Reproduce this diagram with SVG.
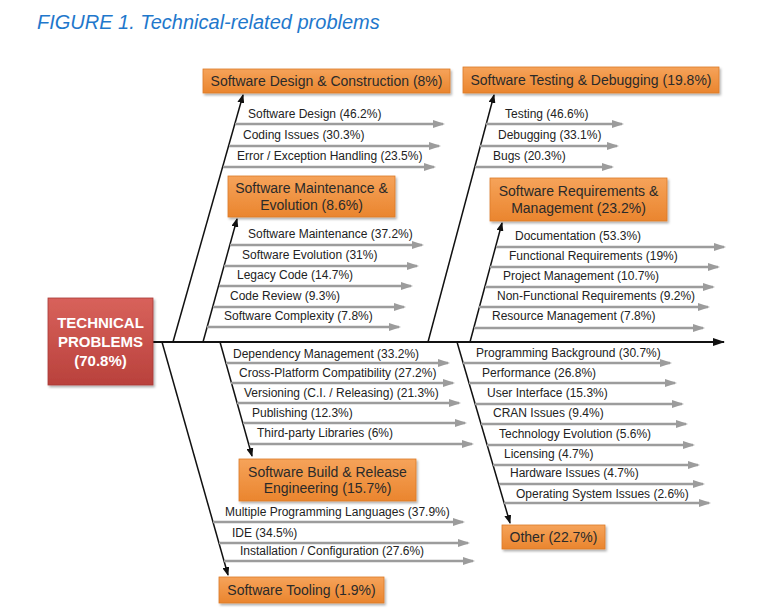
<svg xmlns="http://www.w3.org/2000/svg" width="776" height="615" viewBox="0 0 776 615">
<defs>
<style>
.title{font-family:"Liberation Sans",Arial,sans-serif;font-size:20px;font-style:italic;fill:#1f78cc}
.cat rect{fill:url(#og);stroke:#dc7a28;stroke-width:0.8;filter:url(#sh)}
.cat text{font-family:"Liberation Sans",Arial,sans-serif;font-size:14px;fill:#2a2a2a;text-anchor:middle}
.root rect{fill:url(#rg);stroke:#a83a36;stroke-width:0.8;filter:url(#sh)}
.root text{font-family:"Liberation Sans",Arial,sans-serif;font-size:15px;font-weight:bold;fill:#fff;text-anchor:middle}
.lbl{font-family:"Liberation Sans",Arial,sans-serif;font-size:12px;fill:#222}
.sub{stroke:#9c9c9c;stroke-width:2.4;fill:none;marker-end:url(#ga)}
.bone{stroke:#111;stroke-width:1.5;fill:none;marker-end:url(#ba)}
.spine{stroke:#111;stroke-width:2.2;fill:none;marker-end:url(#sa)}
</style>
<linearGradient id="og" x1="0" y1="0" x2="0" y2="1"><stop offset="0" stop-color="#f6a35a"/><stop offset="1" stop-color="#ea852e"/></linearGradient>
<linearGradient id="rg" x1="0" y1="0" x2="0" y2="1"><stop offset="0" stop-color="#d8625b"/><stop offset="1" stop-color="#b9413c"/></linearGradient>
<filter id="sh" x="-10%" y="-20%" width="125%" height="150%"><feDropShadow dx="1.5" dy="2" stdDeviation="1.2" flood-color="#000" flood-opacity="0.3"/></filter>
<marker id="ga" markerWidth="12" markerHeight="8" refX="10" refY="4" orient="auto" markerUnits="userSpaceOnUse"><path d="M0,0 L12,4 L0,8 z" fill="#9c9c9c"/></marker>
<marker id="ba" markerWidth="9" markerHeight="7" refX="8" refY="3.5" orient="auto" markerUnits="userSpaceOnUse"><path d="M0,0 L9,3.5 L0,7 z" fill="#111"/></marker>
<marker id="sa" markerWidth="12" markerHeight="8" refX="11" refY="4" orient="auto" markerUnits="userSpaceOnUse"><path d="M0,0 L12,4 L0,8 z" fill="#111"/></marker>
</defs>
<rect width="776" height="615" fill="#fff"/>
<text class="title" x="37" y="29">FIGURE 1. Technical-related problems</text>

<g id="connectors">
<line class="spine" x1="153" y1="342" x2="724" y2="342"/>
<line class="bone" x1="173" y1="342" x2="243" y2="95"/>
<line class="bone" x1="203" y1="342" x2="237" y2="219"/>
<line class="bone" x1="428" y1="342" x2="494" y2="95"/>
<line class="bone" x1="470" y1="342" x2="502" y2="223"/>
<line class="bone" x1="220" y1="342" x2="252" y2="456"/>
<line class="bone" x1="162" y1="342" x2="228" y2="575"/>
<line class="bone" x1="457" y1="342" x2="510" y2="523"/>
<!-- Design & Construction -->
<line class="sub" x1="235" y1="124" x2="443" y2="124"/>
<line class="sub" x1="229" y1="146" x2="439" y2="146"/>
<line class="sub" x1="223" y1="167" x2="434" y2="167"/>
<!-- Maintenance -->
<line class="sub" x1="230" y1="245" x2="422" y2="245"/>
<line class="sub" x1="224" y1="266" x2="417" y2="266"/>
<line class="sub" x1="219" y1="286" x2="411" y2="286"/>
<line class="sub" x1="213" y1="307" x2="404" y2="307"/>
<line class="sub" x1="207" y1="327" x2="399" y2="327"/>
<!-- Testing -->
<line class="sub" x1="486" y1="124" x2="622" y2="124"/>
<line class="sub" x1="480" y1="146" x2="617" y2="146"/>
<line class="sub" x1="475" y1="167" x2="612" y2="167"/>
<!-- Requirements -->
<line class="sub" x1="496" y1="247" x2="724" y2="247"/>
<line class="sub" x1="490" y1="267" x2="718" y2="267"/>
<line class="sub" x1="485" y1="287" x2="713" y2="287"/>
<line class="sub" x1="479" y1="307" x2="708" y2="307"/>
<line class="sub" x1="474" y1="328" x2="703" y2="328"/>
<!-- Build & Release -->
<line class="sub" x1="226" y1="363" x2="448" y2="363"/>
<line class="sub" x1="231" y1="383" x2="453" y2="383"/>
<line class="sub" x1="237" y1="403" x2="459" y2="403"/>
<line class="sub" x1="243" y1="423" x2="465" y2="423"/>
<line class="sub" x1="249" y1="444" x2="472" y2="444"/>
<!-- Other -->
<line class="sub" x1="463" y1="363" x2="670" y2="363"/>
<line class="sub" x1="469" y1="383" x2="675" y2="383"/>
<line class="sub" x1="475" y1="404" x2="682" y2="404"/>
<line class="sub" x1="481" y1="424" x2="686" y2="424"/>
<line class="sub" x1="487" y1="445" x2="693" y2="445"/>
<line class="sub" x1="493" y1="465" x2="698" y2="465"/>
<line class="sub" x1="499" y1="484" x2="703" y2="484"/>
<line class="sub" x1="504" y1="503" x2="709" y2="503"/>
<!-- Tooling -->
<line class="sub" x1="213" y1="522" x2="463" y2="522"/>
<line class="sub" x1="219" y1="543" x2="468" y2="543"/>
<line class="sub" x1="224" y1="561" x2="473" y2="561"/>
</g>

<g id="labels">
<text class="lbl" x="248" y="118">Software Design (46.2%)</text>
<text class="lbl" x="243" y="139">Coding Issues (30.3%)</text>
<text class="lbl" x="237" y="160">Error / Exception Handling (23.5%)</text>
<text class="lbl" x="248" y="238">Software Maintenance (37.2%)</text>
<text class="lbl" x="242" y="259">Software Evolution (31%)</text>
<text class="lbl" x="237" y="279">Legacy Code (14.7%)</text>
<text class="lbl" x="230" y="300">Code Review (9.3%)</text>
<text class="lbl" x="224" y="320">Software Complexity (7.8%)</text>
<text class="lbl" x="505" y="118">Testing (46.6%)</text>
<text class="lbl" x="498" y="139">Debugging (33.1%)</text>
<text class="lbl" x="493" y="160">Bugs (20.3%)</text>
<text class="lbl" x="515" y="240">Documentation (53.3%)</text>
<text class="lbl" x="509" y="260">Functional Requirements (19%)</text>
<text class="lbl" x="503" y="280">Project Management (10.7%)</text>
<text class="lbl" x="497" y="300">Non-Functional Requirements (9.2%)</text>
<text class="lbl" x="492" y="320">Resource Management (7.8%)</text>
<text class="lbl" x="233" y="358">Dependency Management (33.2%)</text>
<text class="lbl" x="239" y="377">Cross-Platform Compatibility (27.2%)</text>
<text class="lbl" x="244" y="397">Versioning (C.I. / Releasing) (21.3%)</text>
<text class="lbl" x="252" y="417">Publishing (12.3%)</text>
<text class="lbl" x="257" y="437">Third-party Libraries (6%)</text>
<text class="lbl" x="476" y="357">Programming Background (30.7%)</text>
<text class="lbl" x="482" y="377">Performance (26.8%)</text>
<text class="lbl" x="487" y="397">User Interface (15.3%)</text>
<text class="lbl" x="493" y="417">CRAN Issues (9.4%)</text>
<text class="lbl" x="499" y="438">Technology Evolution (5.6%)</text>
<text class="lbl" x="504" y="458">Licensing (4.7%)</text>
<text class="lbl" x="510" y="477">Hardware Issues (4.7%)</text>
<text class="lbl" x="516" y="498">Operating System Issues (2.6%)</text>
<text class="lbl" x="225" y="516">Multiple Programming Languages (37.9%)</text>
<text class="lbl" x="232" y="537">IDE (34.5%)</text>
<text class="lbl" x="240" y="555">Installation / Configuration (27.6%)</text>
</g>

<g id="root" class="root">
<rect x="48" y="298" width="105" height="87"/>
<text x="100.5" y="328">TECHNICAL</text>
<text x="100.5" y="347">PROBLEMS</text>
<text x="100.5" y="366">(70.8%)</text>
</g>
<g id="design" class="cat">
<rect x="203" y="69" width="247" height="24"/>
<text x="326.5" y="86">Software Design &amp; Construction (8%)</text>
</g>
<g id="testing" class="cat">
<rect x="463" y="67" width="256" height="26"/>
<text x="591" y="85">Software Testing &amp; Debugging (19.8%)</text>
</g>
<g id="maintenance" class="cat">
<rect x="228" y="176" width="167" height="41"/>
<text x="311.5" y="193">Software Maintenance &amp;</text>
<text x="311.5" y="210">Evolution (8.6%)</text>
</g>
<g id="requirements" class="cat">
<rect x="490" y="178" width="177" height="43"/>
<text x="578.5" y="196">Software Requirements &amp;</text>
<text x="578.5" y="213">Management (23.2%)</text>
</g>
<g id="build" class="cat">
<rect x="239" y="459" width="177" height="42"/>
<text x="327.5" y="477">Software Build &amp; Release</text>
<text x="327.5" y="493">Engineering (15.7%)</text>
</g>
<g id="tooling" class="cat">
<rect x="219" y="577" width="165" height="26"/>
<text x="301.5" y="595">Software Tooling (1.9%)</text>
</g>
<g id="other" class="cat">
<rect x="502" y="525" width="103" height="24"/>
<text x="553.5" y="542">Other (22.7%)</text>
</g>
</svg>
